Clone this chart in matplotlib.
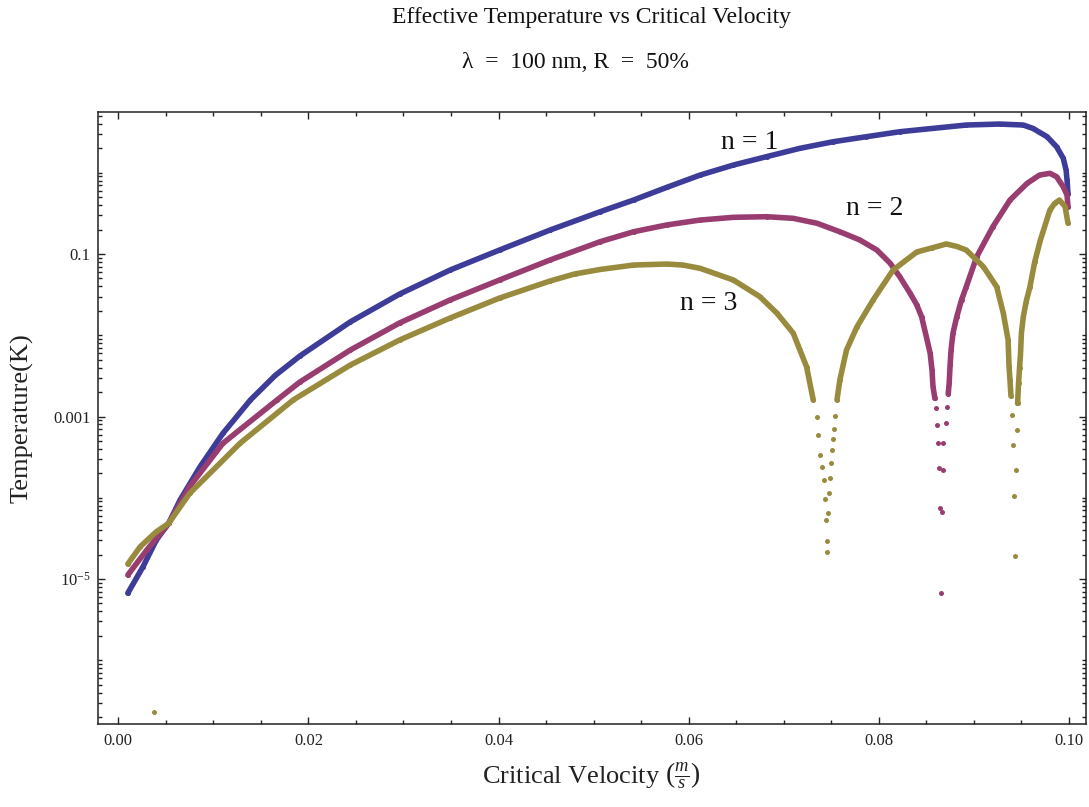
import numpy as np
import matplotlib
matplotlib.use("Agg")
import matplotlib.pyplot as plt
from matplotlib.ticker import FixedLocator, FixedFormatter, LogLocator, NullFormatter, MultipleLocator

plt.rcParams['font.family'] = ['Liberation Serif', 'DejaVu Serif']
plt.rcParams['mathtext.fontset'] = 'custom'
plt.rcParams['mathtext.rm'] = 'Liberation Serif'
plt.rcParams['mathtext.it'] = 'Liberation Serif:italic'

# critical velocity (m/s) and effective temperature (K) for each order n
n1_v = [0.0010, 0.0026, 0.0040, 0.0053, 0.0065, 0.0086, 0.0110, 0.0139, 0.0165, 0.0191,
        0.0244, 0.0296, 0.0349, 0.0401, 0.0454, 0.0507, 0.0542, 0.0577, 0.0612, 0.0647,
        0.0682, 0.0717, 0.0752, 0.0787, 0.0822, 0.0857, 0.0892, 0.0927, 0.0952, 0.0962,
        0.0977, 0.0987, 0.0994, 0.0997, 0.0998, 0.0999]
n1_T = [6.7e-6, 1.42e-5, 3.02e-5, 4.85e-5, 9.4e-5, 2.41e-4, 6.2e-4, 1.6e-3, 3.2e-3, 5.56e-3,
        1.46e-2, 3.22e-2, 6.35e-2, 0.112, 0.197, 0.332, 0.462, 0.662, 0.937, 1.245,
        1.58, 2.0, 2.41, 2.78, 3.2, 3.52, 3.87, 3.98, 3.87, 3.52,
        2.78, 2.09, 1.51, 1.08, 0.815, 0.55]

n2_v = [0.0010, 0.0030, 0.0053, 0.0075, 0.0110, 0.0167, 0.0191, 0.0244, 0.0296, 0.0349,
        0.0401, 0.0454, 0.0507, 0.0542, 0.0577, 0.0612, 0.0647, 0.0682, 0.0710, 0.0735,
        0.0759, 0.0780, 0.0798, 0.0812, 0.0822, 0.0833, 0.0840, 0.0845, 0.0850, 0.0854,
        0.0856, 0.0857, 0.0859, 0.0860, 0.0861, 0.0862, 0.0863, 0.0864, 0.0865, 0.0866,
        0.0867, 0.0868, 0.0871, 0.0872, 0.0873, 0.0874, 0.0875, 0.0876, 0.0878, 0.0882,
        0.0887, 0.0892, 0.0903, 0.0920, 0.0938, 0.0956, 0.0969, 0.0980, 0.0987, 0.0994,
        0.0998, 0.0999]
n2_T = [1.12e-5, 2.28e-5, 4.85e-5, 1.37e-4, 4.68e-4, 1.6e-3, 2.66e-3, 6.58e-3, 1.42e-2, 2.72e-2,
        4.79e-2, 8.43e-2, 0.142, 0.188, 0.228, 0.262, 0.283, 0.288, 0.275, 0.239,
        0.188, 0.149, 0.112, 0.0769, 0.0526, 0.0328, 0.0236, 0.0169, 9.6e-3, 6.0e-3,
        3.7e-3, 2.33e-3, 1.67e-3, 1.27e-3, 7.86e-4, 4.68e-4, 2.3e-4, 7.41e-5, 6.7e-6, 6.73e-5,
        2.2e-4, 4.68e-4, 8.24e-4, 1.32e-3, 1.89e-3, 2.56e-3, 4.3e-3, 6.58e-3, 0.0106, 0.0169,
        0.0272, 0.0396, 0.0927, 0.217, 0.462, 0.741, 0.937, 0.985, 0.894, 0.673,
        0.532, 0.383]

n3_v = [0.0010, 0.0023, 0.0040, 0.0053, 0.0075, 0.0128, 0.0184, 0.0244, 0.0296, 0.0349,
        0.0401, 0.0454, 0.0480, 0.0507, 0.0542, 0.0577, 0.0594, 0.0612, 0.0647, 0.0675,
        0.0693, 0.0710, 0.0717, 0.0724, 0.0731, 0.0735, 0.0736, 0.0738, 0.0740, 0.0742,
        0.0743, 0.0744, 0.0745, 0.0746, 0.0747, 0.0748, 0.0749, 0.0750, 0.0751, 0.0752,
        0.0753, 0.0754, 0.0756, 0.0759, 0.0766, 0.0777, 0.0794, 0.0815, 0.0840, 0.0856,
        0.0871, 0.0882, 0.0892, 0.0910, 0.0924, 0.0931, 0.0936, 0.0937, 0.0938, 0.0939,
        0.0940, 0.0941, 0.0942, 0.0943, 0.0944, 0.0945, 0.0946, 0.0947, 0.0948, 0.0949,
        0.0950, 0.0952, 0.0955, 0.0959, 0.0964, 0.0970, 0.0980, 0.0985, 0.0990, 0.0996,
        0.0999]
n3_T = [1.53e-5, 2.5e-5, 3.82e-5, 4.85e-5, 1.13e-4, 4.68e-4, 1.6e-3, 4.3e-3, 8.75e-3, 0.0163,
        0.0287, 0.0465, 0.0568, 0.0646, 0.0732, 0.0753, 0.0732, 0.0667, 0.0479, 0.0298,
        0.0186, 0.0106, 6.58e-3, 4.1e-3, 1.6e-3, 9.95e-4, 5.92e-4, 3.36e-4, 2.41e-4, 1.65e-4,
        9.6e-5, 5.3e-5, 2.17e-5, 2.96e-5, 6.43e-5, 1.13e-4, 1.77e-4, 2.7e-4, 3.87e-4, 5.24e-4,
        6.95e-4, 1.01e-3, 1.6e-3, 2.81e-3, 6.58e-3, 0.0127, 0.0272, 0.0635, 0.106, 0.119,
        0.133, 0.124, 0.112, 0.0698, 0.0396, 0.0186, 8.75e-3, 4.1e-3, 2.81e-3, 1.79e-3,
        1.04e-3, 4.46e-4, 1.05e-4, 1.92e-5, 2.2e-4, 6.82e-4, 1.45e-3, 2.56e-3, 3.92e-3, 5.71e-3,
        0.0106, 0.0169, 0.0259, 0.0396, 0.080, 0.149, 0.348, 0.420, 0.462, 0.383,
        0.239]

# single stray n = 3 sample near the bottom
n3_stray_v = [0.0038]
n3_stray_T = [2.3e-7]

series = [
    (n1_v, n1_T, '#3d3d99', 'n = 1', (0.0664, 2.34)),
    (n2_v, n2_T, '#993d71', 'n = 2', (0.0796, 0.368)),
    (n3_v, n3_T, '#998b3d', 'n = 3', (0.0621, 0.0243)),
]

x_ticks = [0.00, 0.02, 0.04, 0.06, 0.08, 0.10]
y_ticks = [1e-5, 1e-3, 1e-1, 10]
y_tick_labels = [r'$10^{-5}$', '0.001', '0.1', '10']

fig = plt.figure(figsize=(10.89, 8.07), dpi=100)
ax = fig.add_axes([0.0897, 0.1032, 0.9075, 0.7576])

for v, T, col, lab, pos in series:
    v = np.array(v)
    T = np.array(T)
    # near the zeros the samples spread out, so draw those as separate dots
    sparse = (v > 0.07) & (T < 1.4e-3)
    T_line = np.where(sparse, np.nan, T)
    ax.plot(v, T_line, '-', color=col, lw=4.0, solid_capstyle='round', solid_joinstyle='round')
    ax.plot(v, T, 'o', color=col, ms=3.6, mew=0)
    ax.text(pos[0], pos[1], lab, fontsize=20, ha='center', va='center', color='#111111')

ax.plot(n3_stray_v, n3_stray_T, 'o', color='#998b3d', ms=3.6, mew=0)

ax.set_yscale('log')
ax.set_xlim(-0.00217, 0.10179)
ax.set_ylim(10 ** -6.781, 10 ** 0.744)

ax.xaxis.set_major_locator(FixedLocator(x_ticks))
ax.xaxis.set_major_formatter(FixedFormatter(['%.2f' % t for t in x_ticks]))
ax.xaxis.set_minor_locator(MultipleLocator(0.005))
ax.yaxis.set_major_locator(FixedLocator(y_ticks))
ax.yaxis.set_major_formatter(FixedFormatter(y_tick_labels))
ax.yaxis.set_minor_locator(LogLocator(base=10, subs=np.arange(1, 10), numticks=100))
ax.yaxis.set_minor_formatter(NullFormatter())

ax.tick_params(which='both', direction='in', top=True, right=True, color='#222222', width=1.0)
ax.tick_params(which='major', length=5, labelsize=12, labelcolor='#222222')
ax.tick_params(which='minor', length=2.7)
ax.tick_params(axis='x', which='major', pad=7)
ax.tick_params(axis='y', which='major', pad=5)
for sp in ax.spines.values():
    sp.set_color('#222222')
    sp.set_linewidth(1.1)

ax.set_ylabel('Temperature(K)', fontsize=19, color='#222222', labelpad=14)
ax.set_xlabel(r'Critical Velocity $\left(\frac{m}{s}\right)$', fontsize=19, color='#222222', labelpad=8)

fig.text(0.5436, 1 - 18 / 807, 'Effective Temperature vs Critical Velocity', fontsize=17,
         ha='center', va='center', color='#111111')
fig.text(0.528, 1 - 62 / 807, 'λ  =  100 nm, R  =  50%', fontsize=17,
         ha='center', va='center', color='#111111')

fig.savefig('out.png', dpi=100)
